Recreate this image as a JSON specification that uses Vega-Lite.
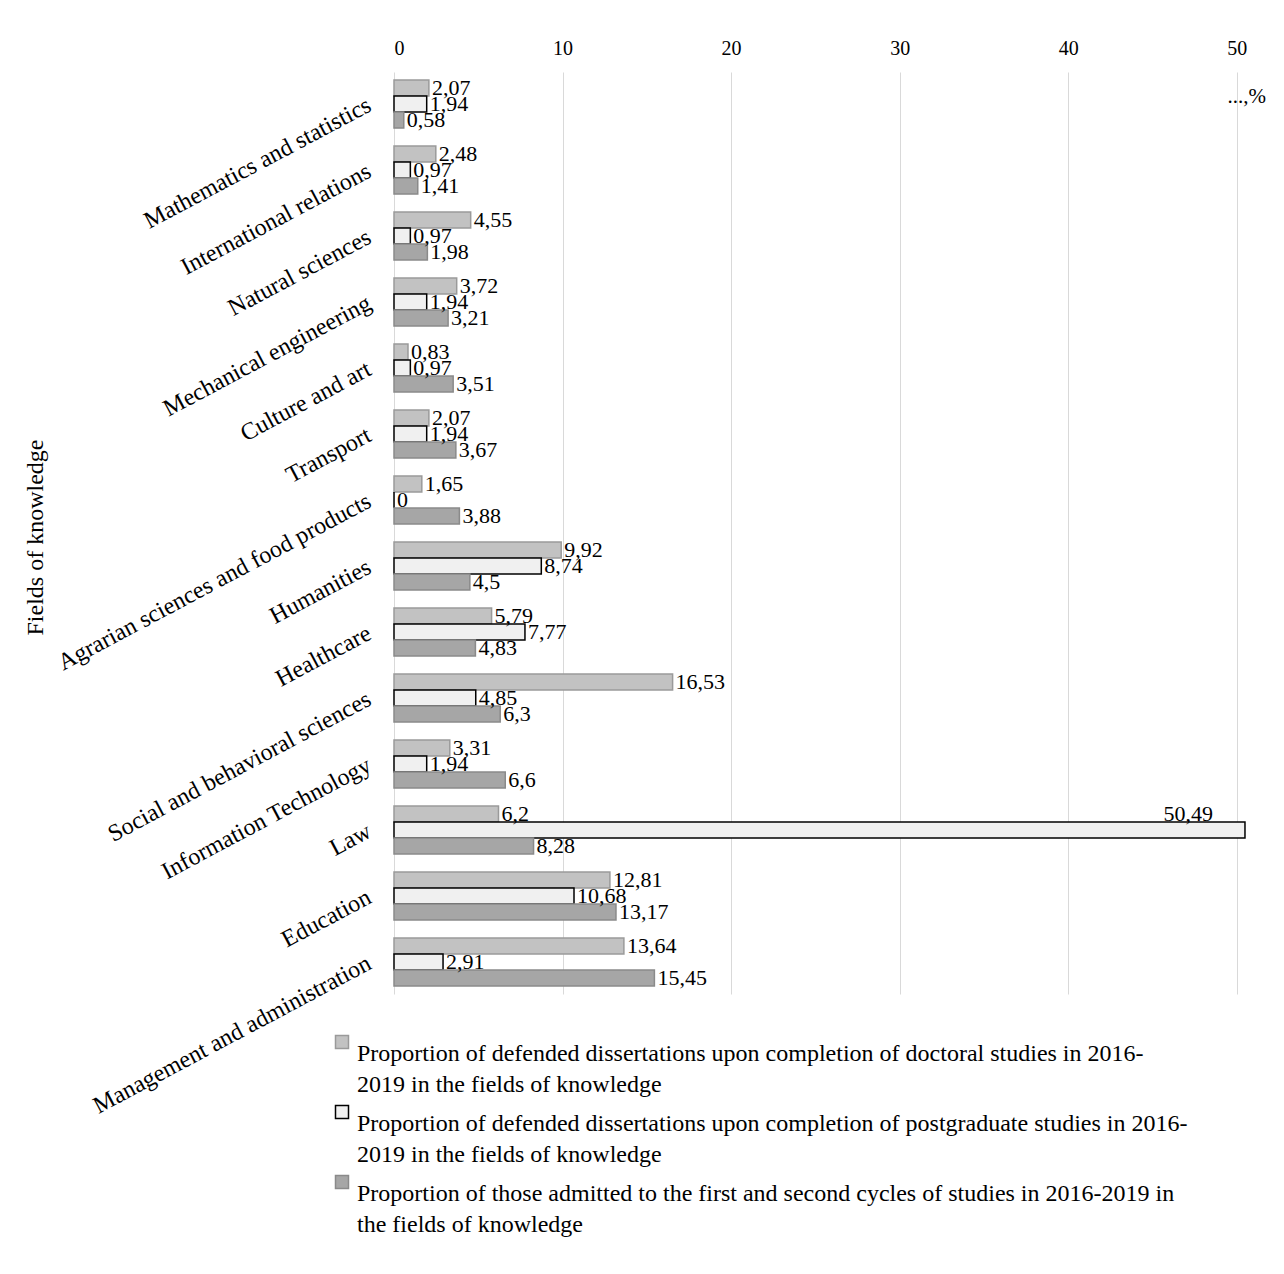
{
  "$schema": "https://vega.github.io/schema/vega-lite/v6.json",
  "width": 868,
  "height": 922,
  "autosize": {"type": "none"},
  "padding": {"left": 394, "top": 72, "right": 22, "bottom": 280},
  "background": "white",
  "config": {
    "view": {"stroke": null},
    "font": "Liberation Serif",
    "style": {"guide-label": {"lineHeight": 31}}
  },
  "data": {
    "values": [
      {"field": "Mathematics and statistics", "series": "Proportion of defended dissertations upon completion of doctoral studies in 2016-2019 in the fields of knowledge", "value": 2.07, "label": "2,07"},
      {"field": "Mathematics and statistics", "series": "Proportion of defended dissertations upon completion of postgraduate studies in 2016-2019 in the fields of knowledge", "value": 1.94, "label": "1,94"},
      {"field": "Mathematics and statistics", "series": "Proportion of those admitted to the first and second cycles of studies in 2016-2019 in the fields of knowledge", "value": 0.58, "label": "0,58"},
      {"field": "International relations", "series": "Proportion of defended dissertations upon completion of doctoral studies in 2016-2019 in the fields of knowledge", "value": 2.48, "label": "2,48"},
      {"field": "International relations", "series": "Proportion of defended dissertations upon completion of postgraduate studies in 2016-2019 in the fields of knowledge", "value": 0.97, "label": "0,97"},
      {"field": "International relations", "series": "Proportion of those admitted to the first and second cycles of studies in 2016-2019 in the fields of knowledge", "value": 1.41, "label": "1,41"},
      {"field": "Natural sciences", "series": "Proportion of defended dissertations upon completion of doctoral studies in 2016-2019 in the fields of knowledge", "value": 4.55, "label": "4,55"},
      {"field": "Natural sciences", "series": "Proportion of defended dissertations upon completion of postgraduate studies in 2016-2019 in the fields of knowledge", "value": 0.97, "label": "0,97"},
      {"field": "Natural sciences", "series": "Proportion of those admitted to the first and second cycles of studies in 2016-2019 in the fields of knowledge", "value": 1.98, "label": "1,98"},
      {"field": "Mechanical engineering", "series": "Proportion of defended dissertations upon completion of doctoral studies in 2016-2019 in the fields of knowledge", "value": 3.72, "label": "3,72"},
      {"field": "Mechanical engineering", "series": "Proportion of defended dissertations upon completion of postgraduate studies in 2016-2019 in the fields of knowledge", "value": 1.94, "label": "1,94"},
      {"field": "Mechanical engineering", "series": "Proportion of those admitted to the first and second cycles of studies in 2016-2019 in the fields of knowledge", "value": 3.21, "label": "3,21"},
      {"field": "Culture and art", "series": "Proportion of defended dissertations upon completion of doctoral studies in 2016-2019 in the fields of knowledge", "value": 0.83, "label": "0,83"},
      {"field": "Culture and art", "series": "Proportion of defended dissertations upon completion of postgraduate studies in 2016-2019 in the fields of knowledge", "value": 0.97, "label": "0,97"},
      {"field": "Culture and art", "series": "Proportion of those admitted to the first and second cycles of studies in 2016-2019 in the fields of knowledge", "value": 3.51, "label": "3,51"},
      {"field": "Transport", "series": "Proportion of defended dissertations upon completion of doctoral studies in 2016-2019 in the fields of knowledge", "value": 2.07, "label": "2,07"},
      {"field": "Transport", "series": "Proportion of defended dissertations upon completion of postgraduate studies in 2016-2019 in the fields of knowledge", "value": 1.94, "label": "1,94"},
      {"field": "Transport", "series": "Proportion of those admitted to the first and second cycles of studies in 2016-2019 in the fields of knowledge", "value": 3.67, "label": "3,67"},
      {"field": "Agrarian sciences and food products", "series": "Proportion of defended dissertations upon completion of doctoral studies in 2016-2019 in the fields of knowledge", "value": 1.65, "label": "1,65"},
      {"field": "Agrarian sciences and food products", "series": "Proportion of defended dissertations upon completion of postgraduate studies in 2016-2019 in the fields of knowledge", "value": 0, "label": "0"},
      {"field": "Agrarian sciences and food products", "series": "Proportion of those admitted to the first and second cycles of studies in 2016-2019 in the fields of knowledge", "value": 3.88, "label": "3,88"},
      {"field": "Humanities", "series": "Proportion of defended dissertations upon completion of doctoral studies in 2016-2019 in the fields of knowledge", "value": 9.92, "label": "9,92"},
      {"field": "Humanities", "series": "Proportion of defended dissertations upon completion of postgraduate studies in 2016-2019 in the fields of knowledge", "value": 8.74, "label": "8,74"},
      {"field": "Humanities", "series": "Proportion of those admitted to the first and second cycles of studies in 2016-2019 in the fields of knowledge", "value": 4.5, "label": "4,5"},
      {"field": "Healthcare", "series": "Proportion of defended dissertations upon completion of doctoral studies in 2016-2019 in the fields of knowledge", "value": 5.79, "label": "5,79"},
      {"field": "Healthcare", "series": "Proportion of defended dissertations upon completion of postgraduate studies in 2016-2019 in the fields of knowledge", "value": 7.77, "label": "7,77"},
      {"field": "Healthcare", "series": "Proportion of those admitted to the first and second cycles of studies in 2016-2019 in the fields of knowledge", "value": 4.83, "label": "4,83"},
      {"field": "Social and behavioral sciences", "series": "Proportion of defended dissertations upon completion of doctoral studies in 2016-2019 in the fields of knowledge", "value": 16.53, "label": "16,53"},
      {"field": "Social and behavioral sciences", "series": "Proportion of defended dissertations upon completion of postgraduate studies in 2016-2019 in the fields of knowledge", "value": 4.85, "label": "4,85"},
      {"field": "Social and behavioral sciences", "series": "Proportion of those admitted to the first and second cycles of studies in 2016-2019 in the fields of knowledge", "value": 6.3, "label": "6,3"},
      {"field": "Information Technology", "series": "Proportion of defended dissertations upon completion of doctoral studies in 2016-2019 in the fields of knowledge", "value": 3.31, "label": "3,31"},
      {"field": "Information Technology", "series": "Proportion of defended dissertations upon completion of postgraduate studies in 2016-2019 in the fields of knowledge", "value": 1.94, "label": "1,94"},
      {"field": "Information Technology", "series": "Proportion of those admitted to the first and second cycles of studies in 2016-2019 in the fields of knowledge", "value": 6.6, "label": "6,6"},
      {"field": "Law", "series": "Proportion of defended dissertations upon completion of doctoral studies in 2016-2019 in the fields of knowledge", "value": 6.2, "label": "6,2"},
      {"field": "Law", "series": "Proportion of defended dissertations upon completion of postgraduate studies in 2016-2019 in the fields of knowledge", "value": 50.49, "label": "50,49"},
      {"field": "Law", "series": "Proportion of those admitted to the first and second cycles of studies in 2016-2019 in the fields of knowledge", "value": 8.28, "label": "8,28"},
      {"field": "Education", "series": "Proportion of defended dissertations upon completion of doctoral studies in 2016-2019 in the fields of knowledge", "value": 12.81, "label": "12,81"},
      {"field": "Education", "series": "Proportion of defended dissertations upon completion of postgraduate studies in 2016-2019 in the fields of knowledge", "value": 10.68, "label": "10,68"},
      {"field": "Education", "series": "Proportion of those admitted to the first and second cycles of studies in 2016-2019 in the fields of knowledge", "value": 13.17, "label": "13,17"},
      {"field": "Management and administration", "series": "Proportion of defended dissertations upon completion of doctoral studies in 2016-2019 in the fields of knowledge", "value": 13.64, "label": "13,64"},
      {"field": "Management and administration", "series": "Proportion of defended dissertations upon completion of postgraduate studies in 2016-2019 in the fields of knowledge", "value": 2.91, "label": "2,91"},
      {"field": "Management and administration", "series": "Proportion of those admitted to the first and second cycles of studies in 2016-2019 in the fields of knowledge", "value": 15.45, "label": "15,45"}
    ]
  },
  "layer": [
    {
      "mark": {"type": "bar", "strokeWidth": 1.5},
      "encoding": {
        "y": {
          "field": "field", "type": "nominal", "sort": null,
          "scale": {"paddingInner": 0.27, "paddingOuter": 0.12},
          "axis": {
            "title": "Fields of knowledge",
            "titleFont": "Liberation Serif", "titleFontSize": 24, "titleFontWeight": "normal", "titleColor": "black",
            "titleAngle": -90, "titleX": -359, "titleY": 465, "titleAlign": "center", "titleBaseline": "middle",
            "labelAngle": -28, "labelAlign": "right", "labelBaseline": "middle", "labelPadding": 25,
            "labelFont": "Liberation Serif", "labelFontSize": 24, "labelColor": "black", "labelLimit": 1000,
            "ticks": false, "domain": false, "grid": false
          }
        },
        "yOffset": {"field": "series", "type": "nominal", "sort": null, "scale": {"paddingInner": 0, "paddingOuter": 0}},
        "x": {
          "field": "value", "type": "quantitative",
          "scale": {"domain": [0, 51.5], "nice": false},
          "axis": {
            "orient": "top", "values": [0, 10, 20, 30, 40, 50], "title": null,
            "labelFont": "Liberation Serif", "labelFontSize": 20, "labelColor": "black", "labelPadding": 14,
            "ticks": false, "domain": false, "grid": true, "gridColor": "#d9d9d9", "gridWidth": 1
          }
        },
        "fill": {
          "field": "series", "type": "nominal", "sort": null,
          "scale": {
            "domain": [
              "Proportion of defended dissertations upon completion of doctoral studies in 2016-2019 in the fields of knowledge",
              "Proportion of defended dissertations upon completion of postgraduate studies in 2016-2019 in the fields of knowledge",
              "Proportion of those admitted to the first and second cycles of studies in 2016-2019 in the fields of knowledge"
            ],
            "range": ["#c2c2c2", "#f0f0f0", "#a6a6a6"]
          },
          "legend": {
            "orient": "none", "legendX": -64, "legendY": 958, "direction": "vertical", "title": null, "padding": 0,
            "symbolType": "square", "symbolSize": 169, "symbolStrokeWidth": 1.5,
            "labelFont": "Liberation Serif", "labelFontSize": 24, "labelColor": "black", "labelLimit": 1000,
            "labelOffset": 3, "rowPadding": 3, "labelBaseline": "top",
            "labelExpr": "indexof(datum.label,'doctoral') >= 0 ? ['Proportion of defended dissertations upon completion of doctoral studies in 2016-', '2019 in the fields of knowledge'] : indexof(datum.label,'postgraduate') >= 0 ? ['Proportion of defended dissertations upon completion of postgraduate studies in 2016-', '2019 in the fields of knowledge'] : ['Proportion of those admitted to the first and second cycles of studies in 2016-2019 in', 'the fields of   knowledge']"
          }
        },
        "stroke": {
          "field": "series", "type": "nominal", "sort": null,
          "scale": {
            "domain": [
              "Proportion of defended dissertations upon completion of doctoral studies in 2016-2019 in the fields of knowledge",
              "Proportion of defended dissertations upon completion of postgraduate studies in 2016-2019 in the fields of knowledge",
              "Proportion of those admitted to the first and second cycles of studies in 2016-2019 in the fields of knowledge"
            ],
            "range": ["#9a9a9a", "#000000", "#8a8a8a"]
          },
          "legend": {
            "orient": "none", "legendX": -64, "legendY": 958, "direction": "vertical", "title": null, "padding": 0,
            "symbolType": "square", "symbolSize": 169, "symbolStrokeWidth": 1.5,
            "labelFont": "Liberation Serif", "labelFontSize": 24, "labelColor": "black", "labelLimit": 1000,
            "labelOffset": 3, "rowPadding": 3, "labelBaseline": "top",
            "labelExpr": "indexof(datum.label,'doctoral') >= 0 ? ['Proportion of defended dissertations upon completion of doctoral studies in 2016-', '2019 in the fields of knowledge'] : indexof(datum.label,'postgraduate') >= 0 ? ['Proportion of defended dissertations upon completion of postgraduate studies in 2016-', '2019 in the fields of knowledge'] : ['Proportion of those admitted to the first and second cycles of studies in 2016-2019 in', 'the fields of   knowledge']"
          }
        }
      }
    },
    {
      "mark": {
        "type": "text", "font": "Liberation Serif", "fontSize": 22, "color": "black", "baseline": "middle",
        "align": {"expr": "datum.value > 40 ? 'right' : 'left'"},
        "dx": {"expr": "datum.value > 40 ? -32 : 3"},
        "dy": {"expr": "datum.value > 40 ? -16 : 0"}
      },
      "encoding": {
        "y": {"field": "field", "type": "nominal", "sort": null},
        "yOffset": {"field": "series", "type": "nominal", "sort": null},
        "x": {"field": "value", "type": "quantitative"},
        "text": {"field": "label"}
      }
    },
    {
      "data": {"values": [{"unit": "...,%", "field": "Mathematics and statistics", "pos": 50.6}]},
      "mark": {"type": "text", "font": "Liberation Serif", "fontSize": 21, "color": "black", "align": "center", "baseline": "middle", "dy": -7},
      "encoding": {
        "y": {"field": "field", "type": "nominal", "sort": null},
        "x": {"field": "pos", "type": "quantitative"},
        "text": {"field": "unit"}
      }
    }
  ]
}
